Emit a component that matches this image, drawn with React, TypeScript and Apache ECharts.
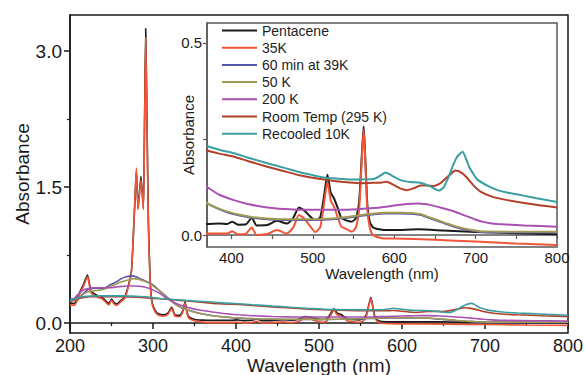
import React, { useEffect, useRef } from "react";
import * as echarts from "echarts";

// Absorption spectra: wavelength (nm) vs absorbance
const seriesNames = [
  "Pentacene",
  "35K",
  "60 min at 39K",
  "50 K",
  "200 K",
  "Room Temp (295 K)",
  "Recooled 10K",
];
const seriesColors = ["#1b1b1b", "#ef5536", "#5656ac", "#a09a55", "#a851b0", "#b23f28", "#3b9ea2"];

const pentacene: [number, number][] = [
  [200, 0.22], [205, 0.215], [209, 0.27], [212, 0.345], [216, 0.42], [221, 0.53], [225, 0.36],
  [228, 0.33], [234, 0.3], [239, 0.28], [244, 0.236], [247, 0.217], [250, 0.265], [253, 0.225],
  [256, 0.21], [262, 0.254], [266, 0.29], [270, 0.4], [274, 0.57], [276, 0.9], [278, 1.3],
  [280, 1.68], [282, 1.27], [285.5, 1.62], [288.4, 1.27], [289.8, 2.2], [291.2, 3.25], [292.8, 2.2],
  [294.5, 1.1], [296.5, 0.5], [298.5, 0.25], [301, 0.17], [305, 0.11], [312, 0.09], [318, 0.11],
  [322.5, 0.175], [326.5, 0.09], [332, 0.085], [336, 0.14], [338.6, 0.235], [341, 0.12], [343, 0.07],
  [350, 0.04], [360, 0.032], [370, 0.029], [385, 0.03], [395, 0.029], [401, 0.035], [408, 0.027],
  [418, 0.028], [425, 0.045], [431, 0.025], [444, 0.026], [456, 0.037], [468, 0.03], [476, 0.045],
  [483, 0.072], [490, 0.063], [496, 0.05], [503, 0.039], [509, 0.046], [513, 0.09], [518, 0.157],
  [522, 0.11], [526, 0.096], [530, 0.074], [535, 0.045], [540, 0.039], [548, 0.035], [553, 0.045],
  [557, 0.09], [560, 0.2], [562.5, 0.283], [564.5, 0.2], [567, 0.08], [570, 0.035], [574, 0.02],
  [585, 0.014], [600, 0.013], [630, 0.015], [660, 0.012], [700, 0.008], [750, 0.005], [800, 0.002],
];

const k35: [number, number][] = [
  [200, 0.2], [205, 0.195], [209, 0.25], [212, 0.33], [216, 0.4], [221, 0.51], [225, 0.34],
  [228, 0.31], [234, 0.285], [239, 0.265], [244, 0.22], [247, 0.2], [250, 0.25], [253, 0.21],
  [256, 0.195], [262, 0.24], [266, 0.275], [270, 0.39], [274, 0.56], [276, 0.92], [278, 1.32],
  [280, 1.71], [282, 1.25], [285.5, 1.58], [288.4, 1.25], [289.8, 2.15], [291.2, 3.15], [292.8, 2.15],
  [294.5, 1.05], [296.5, 0.47], [298.5, 0.23], [301, 0.15], [305, 0.095], [312, 0.075], [318, 0.095],
  [322.5, 0.16], [326.5, 0.075], [332, 0.07], [336, 0.125], [338.6, 0.22], [341, 0.105], [343, 0.055],
  [350, 0.025], [360, 0.01], [370, 0.004], [385, 0.004], [395, 0.004], [401, 0.01], [408, 0.002],
  [418, 0.004], [425, 0.02], [431, 0.0], [444, 0.003], [456, 0.013], [468, 0.004], [476, 0.02],
  [483, 0.052], [490, 0.042], [496, 0.025], [503, 0.008], [509, 0.02], [513, 0.07], [518, 0.139],
  [522, 0.09], [526, 0.074], [530, 0.05], [535, 0.022], [540, 0.017], [548, 0.009], [553, 0.02],
  [557, 0.07], [560, 0.19], [562.5, 0.274], [564.5, 0.19], [567, 0.065], [570, 0.02], [574, 0.0],
  [585, -0.008], [600, -0.009], [650, -0.012], [700, -0.017], [750, -0.022], [800, -0.026],
];

const min60at39K: [number, number][] = [
  [200, 0.26], [206, 0.27], [212, 0.29], [218, 0.34], [224, 0.38], [232, 0.385], [240, 0.38],
  [248, 0.42], [256, 0.455], [262, 0.49], [268, 0.51], [274, 0.52], [281, 0.505], [288, 0.474],
  [294, 0.45], [300, 0.42], [308, 0.356], [314, 0.31], [320, 0.26], [326, 0.215], [332, 0.18],
  [340, 0.15], [349, 0.125], [360, 0.1], [370, 0.083], [382, 0.07], [395, 0.059], [410, 0.051],
  [423, 0.046], [440, 0.042], [464, 0.039], [495, 0.039], [525, 0.041], [560, 0.05], [587, 0.056],
  [610, 0.056], [624, 0.055], [633, 0.052], [641, 0.046], [652, 0.038], [665, 0.028], [678, 0.019],
  [690, 0.013], [706, 0.008], [740, 0.007], [800, 0.007],
];

const k50: [number, number][] = [
  [200, 0.24], [206, 0.25], [212, 0.29], [218, 0.33], [225, 0.35], [232, 0.36], [240, 0.37],
  [248, 0.4], [256, 0.43], [262, 0.455], [268, 0.47], [276, 0.49], [283, 0.48], [290, 0.46],
  [295, 0.44], [300, 0.41], [305, 0.375], [310, 0.34], [315, 0.3], [320, 0.26], [326, 0.215],
  [332, 0.18], [340, 0.15], [350, 0.12], [360, 0.1], [370, 0.083], [382, 0.071], [395, 0.061],
  [410, 0.053], [423, 0.048], [440, 0.044], [464, 0.041], [495, 0.041], [525, 0.043], [560, 0.052],
  [587, 0.058], [610, 0.058], [624, 0.057], [633, 0.054], [641, 0.048], [652, 0.04], [665, 0.03],
  [678, 0.021], [690, 0.015], [706, 0.01], [740, 0.009], [800, 0.009],
];

const k200: [number, number][] = [
  [200, 0.235], [204, 0.26], [208, 0.3], [212, 0.335], [216, 0.364], [222, 0.38], [228, 0.39],
  [238, 0.39], [248, 0.39], [258, 0.4], [268, 0.408], [280, 0.408], [288, 0.4], [296, 0.38],
  [302, 0.355], [308, 0.327], [314, 0.29], [320, 0.254], [328, 0.215], [336, 0.187], [346, 0.162],
  [356, 0.143], [370, 0.125], [385, 0.105], [403, 0.091], [420, 0.081], [444, 0.072], [465, 0.068],
  [485, 0.066], [540, 0.066], [565, 0.069], [583, 0.072], [600, 0.077], [615, 0.081], [630, 0.082],
  [645, 0.078], [660, 0.07], [670, 0.064], [678, 0.058], [688, 0.05], [698, 0.042], [708, 0.035],
  [718, 0.031], [727, 0.029], [760, 0.025], [800, 0.022],
];

const roomTemp: [number, number][] = [
  [200, 0.24], [207, 0.26], [215, 0.28], [225, 0.29], [235, 0.29], [260, 0.29], [290, 0.28],
  [305, 0.27], [320, 0.26], [345, 0.24], [370, 0.22], [385, 0.212], [403, 0.204], [420, 0.193],
  [444, 0.178], [465, 0.166], [485, 0.155], [505, 0.147], [526, 0.141], [545, 0.137], [559, 0.135],
  [575, 0.136], [585, 0.137], [591, 0.139], [600, 0.13], [608, 0.121], [616, 0.117], [624, 0.122],
  [632, 0.129], [640, 0.129], [649, 0.128], [656, 0.134], [662, 0.145], [669, 0.158], [675, 0.168],
  [683, 0.162], [690, 0.148], [698, 0.128], [706, 0.113], [720, 0.1], [739, 0.091], [770, 0.08],
  [800, 0.072],
];

const recooled10K: [number, number][] = [
  [200, 0.25], [210, 0.28], [220, 0.295], [230, 0.3], [260, 0.3], [290, 0.29], [310, 0.27],
  [340, 0.25], [370, 0.232], [385, 0.222], [403, 0.213], [420, 0.202], [444, 0.187], [465, 0.175],
  [485, 0.163], [500, 0.156], [513, 0.15], [530, 0.147], [546, 0.145], [560, 0.145], [575, 0.146],
  [583, 0.155], [589.5, 0.163], [597, 0.155], [608, 0.143], [620, 0.138], [632, 0.136], [645, 0.126],
  [655, 0.116], [661, 0.125], [667, 0.152], [672, 0.18], [677, 0.203], [684, 0.217], [688, 0.2],
  [692, 0.178], [697, 0.16], [702, 0.145], [715, 0.128], [727, 0.117], [740, 0.11], [756, 0.104],
  [775, 0.096], [800, 0.086],
];

const spectra = [pentacene, k35, min60at39K, k50, k200, roomTemp, recooled10K];

// Tick positions
const mainYLabels = [0, 1.5, 3.0];
const mainYMinor = [0.75, 2.25];
const insetXTicks = [400, 500, 600, 700, 800];
const insetXMinor = [400, 450, 500, 550, 600, 650, 700, 750, 800];
const insetYLabels = [0, 0.5];
const insetYTicks = [0, 0.25, 0.5];

const FONT = "'Liberation Sans', Arial, Helvetica, sans-serif";
const INK = "#1a1a1a";
const INSET_INK = "#5a5a5a";

export default function App() {
  const ref = useRef<HTMLDivElement>(null);

  useEffect(() => {
    if (!ref.current) return;
    const chart = echarts.init(ref.current, undefined, { renderer: "svg" });

    const mainSeries = spectra.map((d, i) => ({
      name: seriesNames[i],
      type: "line",
      xAxisIndex: 0,
      yAxisIndex: 0,
      data: d,
      symbol: "none",
      smooth: 0.2,
      clip: true,
      lineStyle: { color: seriesColors[i], width: 1.6 },
      itemStyle: { color: seriesColors[i] },
    }));

    const insetSeries = spectra.map((d, i) => ({
      name: seriesNames[i],
      type: "line",
      xAxisIndex: 1,
      yAxisIndex: 2,
      data: d.filter((p) => p[0] >= 345),
      symbol: "none",
      smooth: 0.2,
      clip: true,
      lineStyle: { color: seriesColors[i], width: 2 },
      itemStyle: { color: seriesColors[i] },
    }));

    chart.setOption({
      animation: false,
      backgroundColor: "#ffffff",
      textStyle: { fontFamily: FONT },
      legend: {
        orient: "vertical",
        left: 222,
        top: 22,
        padding: 0,
        itemGap: 0.2,
        itemWidth: 35,
        itemHeight: 2,
        icon: "rect",
        data: seriesNames,
        selectedMode: false,
        textStyle: { fontSize: 14, color: "#1e1e1e", lineHeight: 17, fontFamily: FONT },
      },
      grid: [
        {
          left: 70, top: 15, width: 498, height: 318, outerBoundsMode: "none", containLabel: false,
          show: true, borderColor: INK, borderWidth: 1.5, backgroundColor: "#fff",
        },
        {
          left: 207, top: 23, width: 350, height: 224, outerBoundsMode: "none", containLabel: false,
          show: true, borderColor: INSET_INK, borderWidth: 1.5, backgroundColor: "#fff",
        },
      ],
      xAxis: [
        {
          type: "value", gridIndex: 0, min: 200, max: 800, interval: 100,
          name: "Wavelength (nm)", nameLocation: "middle", nameGap: 23, nameMoveOverlap: false,
          nameTextStyle: { fontSize: 19, color: INK, fontFamily: FONT },
          axisLine: { lineStyle: { color: INK, width: 1.5 } },
          axisTick: { show: true, length: 6, lineStyle: { color: INK, width: 1.5 } },
          minorTick: { show: true, splitNumber: 2, length: 3, lineStyle: { color: INK, width: 1.2 } },
          axisLabel: { fontSize: 18, color: INK, margin: 4, fontFamily: FONT },
          splitLine: { show: false },
        },
        {
          type: "value", gridIndex: 1, min: 370, max: 800,
          name: "Wavelength (nm)", nameLocation: "middle", nameGap: 19, nameMoveOverlap: false,
          nameTextStyle: { fontSize: 15, color: INK, fontFamily: FONT },
          axisLine: { lineStyle: { color: INSET_INK, width: 1.5 } },
          axisTick: { show: true, length: 4, customValues: insetXMinor, lineStyle: { color: INSET_INK, width: 1.2 } },
          axisLabel: { fontSize: 15, color: INK, margin: 3, customValues: insetXTicks, fontFamily: FONT },
          splitLine: { show: false },
        },
      ],
      yAxis: [
        {
          type: "value", gridIndex: 0, min: -0.11, max: 3.4, position: "left",
          name: "Absorbance", nameLocation: "middle", nameGap: 38, nameRotate: 90, nameMoveOverlap: false,
          nameTextStyle: { fontSize: 19, color: INK, fontFamily: FONT },
          axisLine: { show: true, lineStyle: { color: INK, width: 1.5 } },
          axisTick: { show: true, length: 6, customValues: mainYLabels, lineStyle: { color: INK, width: 1.5 } },
          axisLabel: {
            fontSize: 19, color: INK, margin: 8, customValues: mainYLabels, fontFamily: FONT,
            formatter: (v: number) => v.toFixed(1),
          },
          splitLine: { show: false },
        },
        {
          type: "value", gridIndex: 0, min: -0.11, max: 3.4, position: "left", offset: 0,
          axisLine: { show: false },
          axisTick: { show: true, length: 3, customValues: mainYMinor, lineStyle: { color: INK, width: 1.2 } },
          axisLabel: { show: false },
          splitLine: { show: false },
        },
        {
          type: "value", gridIndex: 1, min: -0.031, max: 0.552, position: "left",
          name: "Absorbance", nameLocation: "middle", nameGap: 11, nameRotate: 90, nameMoveOverlap: false,
          nameTextStyle: { fontSize: 15, color: INK, fontFamily: FONT },
          axisLine: { show: true, lineStyle: { color: INSET_INK, width: 1.5 } },
          axisTick: { show: true, length: 4, customValues: insetYTicks, lineStyle: { color: INSET_INK, width: 1.2 } },
          axisLabel: {
            fontSize: 15, color: INK, margin: 5, customValues: insetYLabels, fontFamily: FONT,
            formatter: (v: number) => v.toFixed(1),
          },
          splitLine: { show: false },
        },
      ],
      series: [...mainSeries, ...insetSeries],
    });

    return () => chart.dispose();
  }, []);

  return (
    <div
      ref={ref}
      style={{ position: "fixed", left: 0, top: 0, width: 585, height: 375, background: "#fff" }}
    />
  );
}
